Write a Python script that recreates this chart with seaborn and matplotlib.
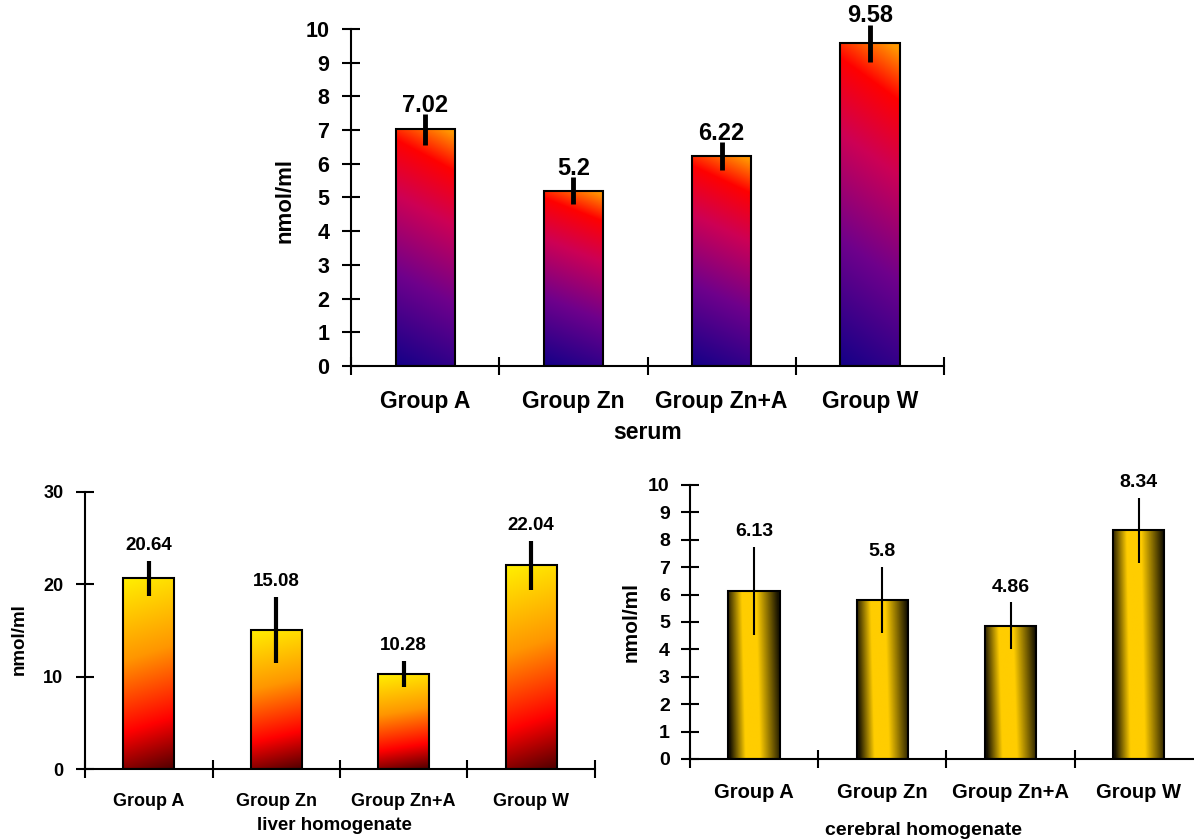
import numpy as np
import seaborn as sns
import matplotlib
matplotlib.use("Agg")
import matplotlib.pyplot as plt
from matplotlib.ticker import FixedLocator

groups = ["Group A", "Group Zn", "Group Zn+A", "Group W"]

serum_vals = [7.02, 5.2, 6.22, 9.58]
serum_err = [0.45, 0.4, 0.42, 0.55]

liver_vals = [20.64, 15.08, 10.28, 22.04]
liver_err = [1.9, 3.6, 1.4, 2.7]

cereb_vals = [6.13, 5.8, 4.86, 8.34]
cereb_err = [1.6, 1.2, 0.85, 1.2]

sns.set_theme(style="white")
plt.rcParams["font.family"] = ["Liberation Sans", "DejaVu Sans"]
plt.rcParams["font.weight"] = "bold"
plt.rcParams["text.color"] = "black"
plt.rcParams["axes.labelcolor"] = "black"
plt.rcParams["xtick.color"] = "black"
plt.rcParams["ytick.color"] = "black"


def fill_gradient(ax, patch, stops, colors, kind):
    x0, y0 = patch.get_x(), patch.get_y()
    w, h = patch.get_width(), patch.get_height()
    U, V = np.meshgrid(np.linspace(0, 1, 80), np.linspace(0, 1, 300))
    if kind == "serum":
        t = np.clip(0.9 * V + 0.12 * U, 0, 1)
    elif kind == "liver":
        t = np.clip(0.92 * V + 0.08 * (1 - U), 0, 1)
    else:
        t = np.clip(U + 0.08 * (V - 0.5), 0, 1)
    colors = np.array(colors) / 255.0
    rgb = np.stack([np.interp(t, stops, colors[:, c]) for c in range(3)], axis=-1)
    im = ax.imshow(rgb, extent=(x0, x0 + w, y0, y0 + h), origin="lower",
                   aspect="auto", interpolation="bilinear", zorder=1.5)
    im.set_clip_path(patch)


def panel(ax, vals, errs, ymax, ystep, stops, colors, kind, elw, fs):
    sns.barplot(x=groups, y=vals, ax=ax, width=0.4, color="white",
                edgecolor="black", linewidth=1.5, errorbar=None, zorder=2)
    for p in ax.patches:
        p.set_facecolor("none")
        fill_gradient(ax, p, stops, colors, kind)
    ax.errorbar(range(len(vals)), vals, yerr=errs, fmt="none", ecolor="black",
                elinewidth=elw, capsize=0, zorder=3, clip_on=False)
    ax.set_xlim(-0.5, 3.5)
    ax.set_ylim(0, ymax)
    ax.set_yticks(np.arange(0, ymax + 0.1, ystep))
    ax.xaxis.set_minor_locator(FixedLocator([-0.5, 0.5, 1.5, 2.5, 3.5]))
    for s in ["top", "right"]:
        ax.spines[s].set_visible(False)
    for s in ["left", "bottom"]:
        ax.spines[s].set_color("black")
        ax.spines[s].set_linewidth(1.5)
    ax.tick_params(axis="y", direction="inout", length=13, width=1.5,
                   colors="black", labelsize=fs["ytick"], pad=fs["ypad"], left=True)
    ax.tick_params(axis="x", which="major", length=0, labelsize=fs["xtick"],
                   pad=fs["xpad"], colors="black")
    ax.tick_params(axis="x", which="minor", direction="inout", length=13,
                   width=1.5, bottom=True, color="black")
    for lab in ax.get_xticklabels() + ax.get_yticklabels():
        lab.set_fontweight("bold")
    for i, (v, e) in enumerate(zip(vals, errs)):
        ax.annotate(f"{v:g}", (i, v + e), xytext=(0, fs["voff"]),
                    textcoords="offset points", ha="center", va="bottom",
                    fontsize=fs["val"], fontweight="bold", zorder=4,
                    color="black", annotation_clip=False)
    ax.set_ylabel("nmol/ml", fontsize=fs["ylab"], fontweight="bold")


fig = plt.figure(figsize=(11.94, 8.39), dpi=100)

ax1 = fig.add_axes([0.294, 0.5638, 0.4966, 0.4017])
panel(ax1, serum_vals, serum_err, 10, 1, [0, 0.35, 0.65, 0.86, 1.0],
      [(20, 0, 135), (110, 0, 140), (205, 0, 85), (255, 0, 0), (255, 150, 0)],
      "serum", 3.5,
      dict(ytick=15.5, ypad=9, xtick=16.5, xpad=17, val=17, voff=-2, ylab=16))
ax1.set_xlabel("serum", fontsize=16.5, fontweight="bold")
ax1.xaxis.set_label_coords(0.5, -0.163)
ax1.yaxis.set_label_coords(-0.093, 0.49)

ax2 = fig.add_axes([0.0712, 0.0834, 0.4271, 0.3302])
panel(ax2, liver_vals, liver_err, 30, 10, [0, 0.25, 0.6, 1.0],
      [(80, 0, 0), (255, 0, 0), (255, 150, 0), (255, 240, 0)],
      "liver", 3.0,
      dict(ytick=13, ypad=9, xtick=13, xpad=17, val=13.5, voff=5, ylab=13.5))
ax2.set_xlabel("liver homogenate", fontsize=13.5, fontweight="bold")
ax2.xaxis.set_label_coords(0.49, -0.173)
ax2.yaxis.set_label_coords(-0.112, 0.47)

ax3 = fig.add_axes([0.5779, 0.0954, 0.4296, 0.3266])
panel(ax3, cereb_vals, cereb_err, 10, 1, [0, 0.3, 0.58, 1.0],
      [(20, 15, 0), (255, 205, 0), (255, 205, 0), (25, 20, 0)],
      "cereb", 1.5,
      dict(ytick=14, ypad=8, xtick=14.5, xpad=17, val=14, voff=5, ylab=15))
ax3.set_xlabel("cerebral homogenate", fontsize=14, fontweight="bold")
ax3.xaxis.set_label_coords(0.455, -0.23)
ax3.yaxis.set_label_coords(-0.097, 0.5)

fig.savefig("out.png", dpi=100)
